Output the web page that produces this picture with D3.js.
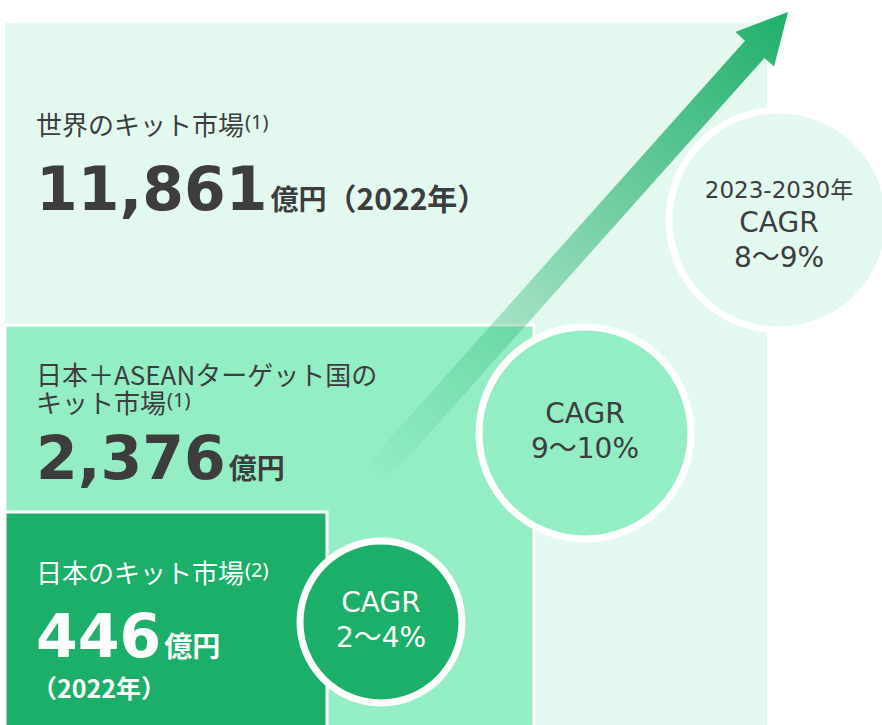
<!DOCTYPE html>
<html>
<head>
<meta charset="utf-8">
<script src="https://cdn.jsdelivr.net/npm/d3@7"></script>
<style>
  body { margin: 0; background: #fff; }
  svg { display: block; }
</style>
</head>
<body>
<div id="chart"></div>
<script>
var width = 882,
    height = 725;

// market tiers, outermost first
var tiers = ["world", "asean", "japan"];
var marketLines = [["世界のキット市場"], ["日本＋ASEANターゲット国の", "キット市場"], ["日本のキット市場"]];
var notes = ["(1)", "(1)", "(2)"];
var marketValues = [11861, 2376, 446];
var unit = "億円";
var years = ["（2022年）", "", "（2022年）"];
var cagrPeriods = ["2023-2030年", "", ""];
var cagrRanges = ["8～9%", "9～10%", "2～4%"];

var fmt = d3.format(",");

// geometry of the nested boxes
var boxRight = d3.scaleOrdinal().domain(tiers).range([767, 534, 327]);
var boxTop = d3.scaleOrdinal().domain(tiers).range([23, 325, 512]);
var boxFill = d3.scaleOrdinal().domain(tiers).range(["#e3f9f0", "#93edc5", "#1baf69"]);
var inkColor = d3.scaleOrdinal().domain(tiers).range(["#3d3d3d", "#3d3d3d", "#ffffff"]);

// circles
var circleX = d3.scaleOrdinal().domain(tiers).range([779, 585, 381]);
var circleY = d3.scaleOrdinal().domain(tiers).range([220, 433, 622]);
var circleR = d3.scaleOrdinal().domain(tiers).range([110, 106, 81]);

// text baselines per tier
var labelY = d3.scaleOrdinal().domain(tiers).range([135, 385, 583]);
var valueY = d3.scaleOrdinal().domain(tiers).range([210, 479, 657]);

var rows = tiers.map(function(t, i) {
  return {
    tier: t,
    lines: marketLines[i],
    note: notes[i],
    value: marketValues[i],
    year: years[i],
    period: cagrPeriods[i],
    range: cagrRanges[i]
  };
});

var svg = d3.select("#chart").append("svg")
  .attr("width", width)
  .attr("height", height);

var defs = svg.append("defs");

// boxes
svg.append("g").attr("id", "boxes")
  .selectAll("rect")
  .data(rows)
  .enter().append("rect")
    .attr("x", 5)
    .attr("y", function(d) { return boxTop(d.tier); })
    .attr("width", function(d) { return boxRight(d.tier) - 5; })
    .attr("height", function(d) { return height - boxTop(d.tier) + 10; })
    .attr("fill", function(d) { return boxFill(d.tier); })
    .attr("stroke", function(d, i) { return i == 0 ? "none" : "#fff"; })
    .attr("stroke-width", 3);

// growth arrow
var start = [372, 478], tip = [788, 12];
var dx = tip[0] - start[0], dy = tip[1] - start[1];
var len = Math.sqrt(dx * dx + dy * dy);
var u = [dx / len, dy / len], n = [-u[1], u[0]];
var headLen = 50, shaftHalf = 13, headHalf = 26;
var base = [tip[0] - u[0] * headLen, tip[1] - u[1] * headLen];
function off(p, k) { return [p[0] + n[0] * k, p[1] + n[1] * k]; }
var arrowPts = [off(start, shaftHalf), off(base, shaftHalf), off(base, headHalf), tip,
                off(base, -headHalf), off(base, -shaftHalf), off(start, -shaftHalf)];

var grad = defs.append("linearGradient")
  .attr("id", "arrowGrad")
  .attr("gradientUnits", "userSpaceOnUse")
  .attr("x1", start[0]).attr("y1", start[1])
  .attr("x2", tip[0]).attr("y2", tip[1]);
grad.append("stop").attr("offset", 0).attr("stop-color", "#1faf6a").attr("stop-opacity", 0);
grad.append("stop").attr("offset", 1).attr("stop-color", "#1faf6a").attr("stop-opacity", 1);

svg.append("path")
  .attr("d", d3.line()(arrowPts) + "Z")
  .attr("fill", "url(#arrowGrad)");

// CAGR circles
var circles = svg.append("g").attr("id", "circles")
  .selectAll("g")
  .data(rows)
  .enter().append("g")
    .attr("transform", function(d) { return "translate(" + circleX(d.tier) + "," + circleY(d.tier) + ")"; });

circles.append("circle")
  .attr("r", function(d) { return circleR(d.tier); })
  .attr("fill", function(d) { return boxFill(d.tier); })
  .attr("stroke", "#fff")
  .attr("stroke-width", 7);

circles.each(function(d) {
  var g = d3.select(this);
  var lines = [];
  if (d.period) lines.push({text: d.period, size: 23});
  lines.push({text: "CAGR", size: 28});
  lines.push({text: d.range, size: 28});
  var offsets = lines.length == 3 ? [-22, 12, 47] : [-10, 25];
  g.selectAll("text")
    .data(lines)
    .enter().append("text")
      .attr("y", function(l, i) { return offsets[i]; })
      .attr("text-anchor", "middle")
      .attr("font-family", "'DejaVu Sans', 'Noto Sans CJK JP', sans-serif")
      .attr("font-size", function(l) { return l.size; })
      .attr("fill", inkColor(d.tier))
      .text(function(l) { return l.text; });
});

// market labels
var labels = svg.append("g").attr("id", "labels")
  .selectAll("g")
  .data(rows)
  .enter().append("g");

labels.each(function(d) {
  var g = d3.select(this);
  var col = inkColor(d.tier);
  // one text per line so wrapped titles stay separate
  d.lines.forEach(function(line, i) {
    var t = g.append("text")
      .attr("x", 36)
      .attr("y", labelY(d.tier) + i * 28)
      .attr("font-family", "'Noto Sans CJK JP', sans-serif")
      .attr("font-size", 26)
      .attr("fill", col)
      .text(line);
    if (i == d.lines.length - 1) {
      t.append("tspan")
        .attr("font-family", "'Noto Sans', sans-serif")
        .attr("font-size", 20)
        .attr("dx", 1)
        .attr("dy", -6)
        .text(d.note);
    }
  });

  var val = g.append("text")
    .attr("x", 36)
    .attr("y", valueY(d.tier))
    .attr("fill", col);
  val.append("tspan")
    .attr("font-family", "'DejaVu Sans', sans-serif")
    .attr("font-weight", "bold")
    .attr("font-size", 60)
    .text(fmt(d.value));
  val.append("tspan")
    .attr("font-family", "'Noto Sans CJK JP', sans-serif")
    .attr("font-weight", "bold")
    .attr("font-size", 28)
    .attr("dx", 3)
    .text(unit);

  if (d.year && d.tier == "world") {
    val.append("tspan")
      .attr("font-family", "'Noto Sans CJK JP', sans-serif")
      .attr("font-weight", "bold")
      .attr("font-size", 30)
      .text(d.year);
  } else if (d.year) {
    g.append("text")
      .attr("x", 32)
      .attr("y", valueY(d.tier) + 41)
      .attr("font-family", "'Noto Sans CJK JP', sans-serif")
      .attr("font-weight", "bold")
      .attr("font-size", 25)
      .attr("fill", col)
      .text(d.year);
  }
});
</script>
</body>
</html>
